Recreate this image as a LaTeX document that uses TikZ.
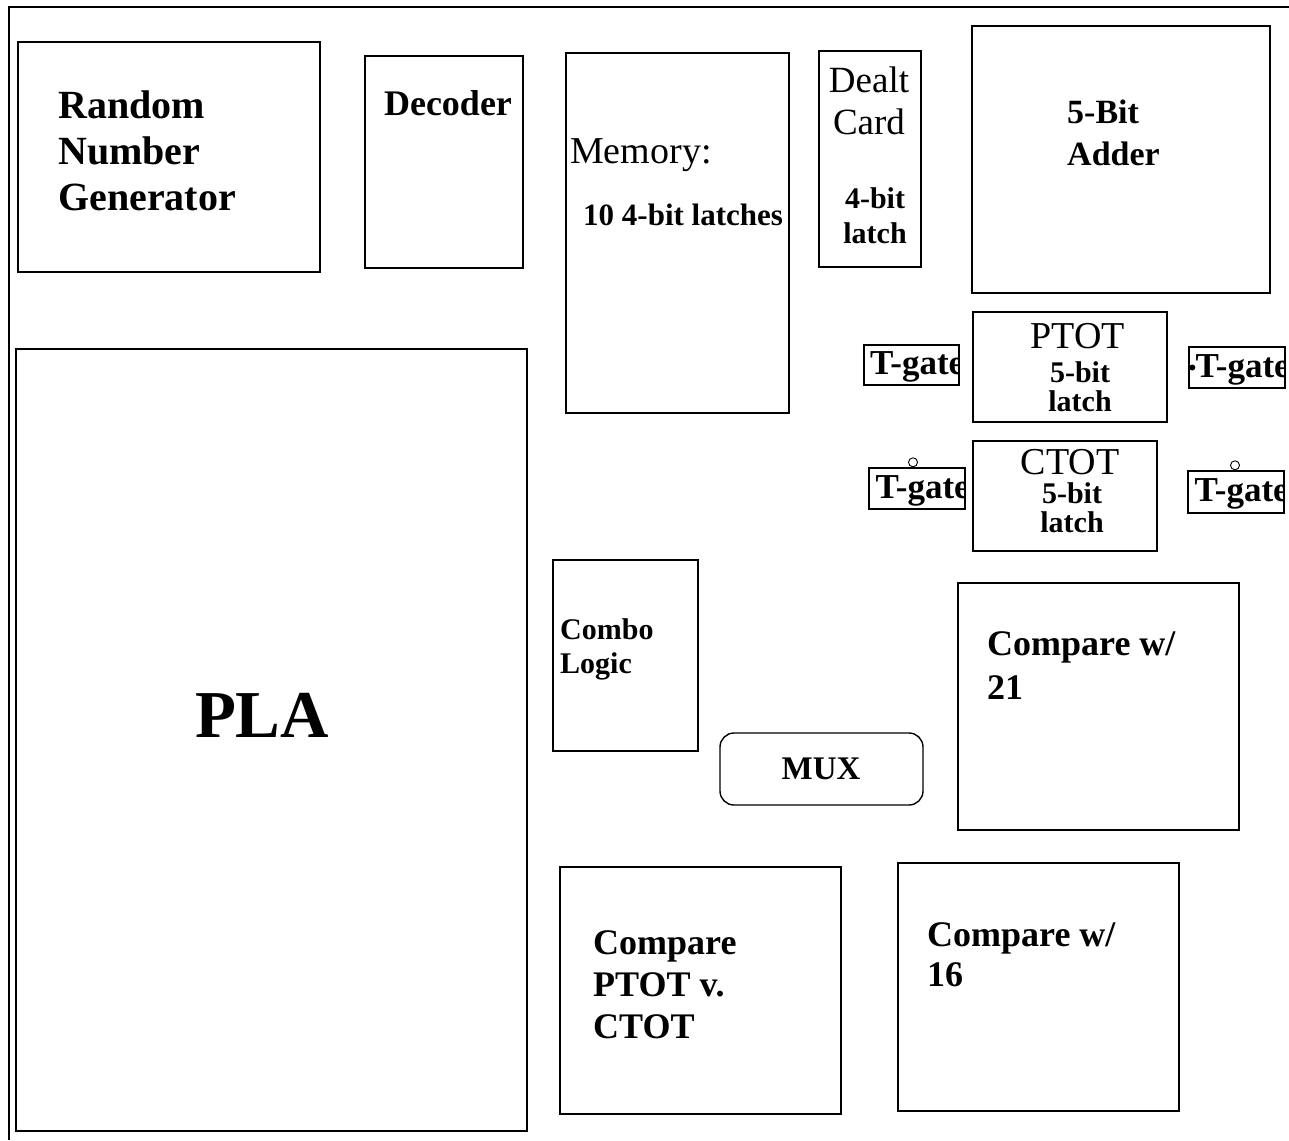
\documentclass[tikz,border=0pt]{standalone}
\usepackage{fontspec}
\setmainfont{Liberation Serif}
\usetikzlibrary{positioning}

\begin{document}
\begin{tikzpicture}[x=1pt, y=-1pt,
    blk/.style={draw, line width=1.4pt, inner sep=0pt},
    lbl/.style={inner sep=0pt, align=left, font=\bfseries},
    tgate/.style={blk, minimum width=96pt, minimum height=41pt,
      path picture={\node[anchor=west, inner sep=0pt,
        font=\fontsize{35}{36}\selectfont\bfseries]
        at ([xshift=5pt, yshift=-2pt]path picture bounding box.west) {T-gate};}}
  ]
    \useasboundingbox (0,0) rectangle (1289,1140);
    % outer frame (only top and left show)
    \draw[line width=1.2pt] (9,1140) -- (9,7) -- (1289,7);

    % blocks
    \node[blk, minimum width=302pt, minimum height=230pt] (rng) at (169,157) {};
    \node[blk, minimum width=158pt, minimum height=212pt] (dec) at (444,162) {};
    \node[blk, minimum width=223pt, minimum height=360pt] (mem) at (677.5,233) {};
    \node[blk, minimum width=102pt, minimum height=216pt] (dealt) at (870,159) {};
    \node[blk, minimum width=298pt, minimum height=267pt] (adder) at (1121,159.5) {};
    \node[blk, minimum width=511pt, minimum height=782pt] (pla) at (271.5,740) {};
    \node[blk, minimum width=194pt, minimum height=110pt] (ptot) at (1070,367) {};
    \node[blk, minimum width=184pt, minimum height=110pt] (ctot) at (1065,496) {};
    \node[tgate, minimum width=95pt, minimum height=40pt] (tgul) at (911.5,365) {};
    \node[tgate] (tgur) at (1237,367.5) {};
    \node[tgate] (tgll) at (917,488.5) {};
    \node[tgate, minimum height=42pt] (tglr) at (1236,492) {};
    \node[blk, minimum width=145pt, minimum height=191pt] (combo) at (625.5,655.5) {};
    \node[blk, rounded corners=14pt, minimum width=203pt, minimum height=72pt] (mux) at (821.5,769) {};
    \node[blk, minimum width=281pt, minimum height=247pt] (cmp21) at (1098.5,706.5) {};
    \node[blk, minimum width=281pt, minimum height=247pt] (cmppc) at (700.5,990.5) {};
    \node[blk, minimum width=281pt, minimum height=248pt] (cmp16) at (1038.5,987) {};

    % inverting bubbles on the T-gates
    \draw[line width=0.9pt] ([xshift=-4pt, yshift=5pt]tgll.north) circle (4.5pt);
    \draw[line width=0.9pt] ([xshift=-1pt, yshift=5pt]tglr.north) circle (4.5pt);
    \fill ([xshift=4pt]tgur.west) circle (3pt);

    % labels
    \node[lbl, anchor=west, font=\fontsize{40}{46}\selectfont\bfseries] (rnglbl) at (58,151) {Random\\Number\\Generator};
    \node[lbl, font=\fontsize{36}{40}\selectfont\bfseries] (declbl) at (448,103) {Decoder};
    \node[lbl, anchor=west, font=\fontsize{38}{40}\selectfont] (memlbl) at (570,155) {Memory:};
    \node[lbl, anchor=west, font=\fontsize{31}{34}\selectfont\bfseries] (memsub) at (583,215) {10 4-bit latches};
    \node[lbl, align=center, font=\fontsize{37}{42}\selectfont] (dealtlbl) at (869,101) {Dealt\\Card};
    \node[lbl, align=center, font=\fontsize{30}{35}\selectfont\bfseries] (dealtsub) at (875,216) {4-bit\\latch};
    \node[lbl, anchor=west, font=\fontsize{34}{42}\selectfont\bfseries] (adderlbl) at (1067,133) {5-Bit\\Adder};
    \node[lbl, font=\fontsize{67}{70}\selectfont\bfseries] (plalbl) at (262,715) {PLA};
    \node[lbl, font=\fontsize{38}{40}\selectfont] (ptotlbl) at (1078,336) {PTOT};
    \node[lbl, align=center, font=\fontsize{30}{29}\selectfont\bfseries] (ptotsub) at (1080,387) {5-bit\\latch};
    \node[lbl, font=\fontsize{38}{40}\selectfont] (ctotlbl) at (1070,462) {CTOT};
    \node[lbl, align=center, font=\fontsize{30}{29}\selectfont\bfseries] (ctotsub) at (1072,508) {5-bit\\latch};
    \node[lbl, anchor=west, font=\fontsize{30}{34}\selectfont\bfseries] (combolbl) at (560,649) {Combo\\Logic};
    \node[lbl, font=\fontsize{33}{36}\selectfont\bfseries] (muxlbl) at (821,769) {MUX};
    \node[lbl, anchor=west, font=\fontsize{36}{44}\selectfont\bfseries] (c21lbl) at (987,666) {Compare w/\\21};
    \node[lbl, anchor=west, font=\fontsize{36}{42}\selectfont\bfseries] (cpclbl) at (593,985) {Compare\\PTOT v.\\CTOT};
    \node[lbl, anchor=west, font=\fontsize{36}{40}\selectfont\bfseries] (c16lbl) at (927,955) {Compare w/\\16};
\end{tikzpicture}
\end{document}
